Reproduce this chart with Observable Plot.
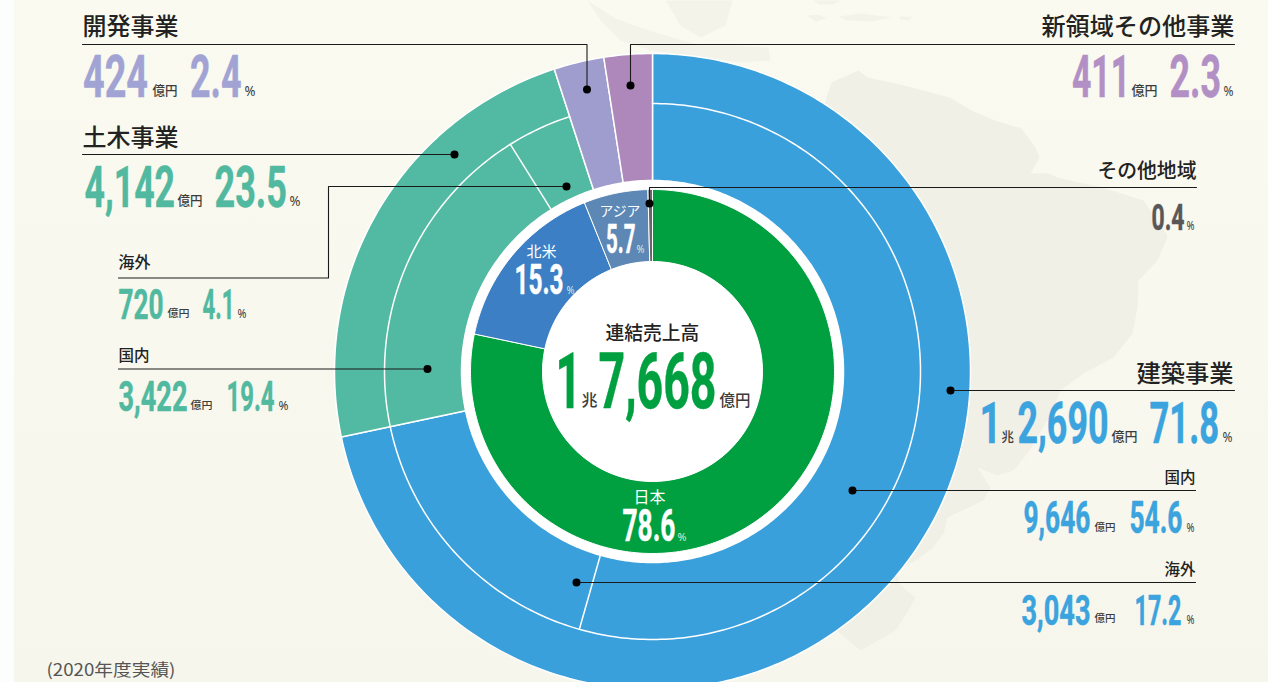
<!DOCTYPE html>
<html lang="ja">
<head>
<meta charset="utf-8">
<title>連結売上高</title>
<script src="https://cdn.jsdelivr.net/npm/d3@7"></script>
<script src="https://cdn.jsdelivr.net/npm/@observablehq/plot@0.6"></script>
<style>
html,body{margin:0;padding:0;background:#fcfdfd;overflow:hidden}
svg{display:block}
</style>
</head>
<body>
<div id="chart"></div>
<script>
// ---- values printed in the picture ----
const businessNames = ["建築事業", "土木事業", "開発事業", "新領域その他事業"];
const businessShares = [71.8, 23.5, 2.4, 2.3];
const businessAmounts = [12690, 4142, 424, 411];
const businessColors = ["#3aa0dc", "#52b9a2", "#9e9dcd", "#ae87bb"];

const subNames = ["国内", "海外", "国内", "海外"];
const subShares = [54.6, 17.2, 19.4, 4.1];
const subAmounts = [9646, 3043, 3422, 720];

const regionNames = ["日本", "北米", "アジア", "その他地域"];
const regionShares = [78.6, 15.3, 5.7, 0.4];
const regionColors = ["#00a040", "#3c7fc4", "#5d87b5", "#666666"];

const totalTitle = "連結売上高";
const totalAmount = 17668;
const footNote = "(2020年度実績)";

const businessDrawn = [71.7, 23.3, 2.55, 2.45];
const subDrawn = [54.4, 17.3, 19.4, 3.9];
const regionDrawn = [78.3, 15.6, 5.7, 0.4];

// ---- geometry of the rings ----
const W = 1268, H = 682, cx = 652, cy = 371;
const rOuter = 318, rSplit = 268, rMid = 191, rRegion = 182, rHole = 110;

const polar = (r, share) => {
  const a = share / 100 * 2 * Math.PI;
  return {x: cx + r * Math.sin(a), y: cy - r * Math.cos(a)};
};
const arcPoints = (r, s0, s1) => {
  const n = Math.max(2, Math.ceil(Math.abs(s1 - s0) * 4));
  return d3.range(n + 1).map(i => polar(r, s0 + (s1 - s0) * i / n));
};
function ringSlices(shares, colors, r0, r1) {
  let start = 0;
  return shares.flatMap((v, k) => {
    const s0 = start, s1 = start + v;
    start = s1;
    const pts = [...arcPoints(r1, s0, s1), ...arcPoints(r0, s1, s0)];
    pts.push(pts[0]);
    return pts.map(p => ({...p, id: k, color: colors[k]}));
  });
}
const outerSlices = ringSlices(businessDrawn, businessColors, rMid, rOuter);
const regionSlices = ringSlices(regionDrawn, regionColors, rHole, rRegion);

const splitEnd = businessDrawn[0] + businessDrawn[1];
const splitArc = arcPoints(rSplit, 0, splitEnd);
const cut1 = subDrawn[0];
const cut2 = subDrawn[0] + subDrawn[1] + subDrawn[2];
const splitCuts = [cut1, cut2].flatMap((s, k) =>
  [polar(rMid, s), polar(rSplit, s)].map(p => ({...p, id: k})));

// ---- faint map behind the chart (decoration) ----
const mapMain = [[[831,82],[858,70],[867,77],[904,85],[949,97],[971,110],[994,120],[1021,128],[1035,147],[1039,157],[1030,173],[1048,173],[1057,177],[1102,187],[1143,200],[1166,233],[1167,237],[1157,260],[1138,280],[1137,307],[1132,333],[1113,357],[1083,373],[1060,390],[1050,415],[1027,453],[1013,470],[997,475],[977,467],[990,487],[983,500],[947,517],[943,533],[932,548],[915,560],[895,570],[900,585],[915,597],[905,615],[895,630],[860,650],[800,600],[760,300]]];
const mapNorth = [
  [[587,0],[615,18],[640,27],[668,36],[700,45],[730,45],[768,47],[770,60],[740,62],[650,50],[620,40],[600,20]],
  [[732,0],[725,25],[700,37],[680,25],[665,0]],
  [[806,15],[818,14],[826,18],[815,21]],
  [[838,16],[860,13],[892,17],[872,21],[845,20]],
  [[899,16],[912,16],[908,20],[900,19]],
  [[813,0],[840,0],[832,4],[818,4]]
];
const toPoints = shapes => shapes.flatMap((s, k) => [...s, s[0]].map(([x, y]) => ({x, y, id: k})));

// ---- leader lines ----
const leaderPaths = [
  [[82,44],[586.5,44],[586.5,89]],
  [[1234,44],[630,44],[630,85]],
  [[82,154],[454,154]],
  [[118,277.5],[328,277.5],[328,186],[566,186]],
  [[118,368.5],[427,368.5]],
  [[1234,390],[950,390]],
  [[1195,490],[852,490]],
  [[1195,582],[576,582]],
  [[1196,187],[649,187],[649,203]]
];
const leaderPoints = leaderPaths.flatMap((p, k) => p.map(([x, y]) => ({x, y, id: k})));
const leaderDots = leaderPaths.map(p => ({x: p[p.length - 1][0], y: p[p.length - 1][1]}));

// ---- text ----
const fmt = d3.format(",");
const pct = v => v.toFixed(1);
const ink = "#222222", unitInk = "#3c3c3c", soft = "#d9ecdf";
const numColor = {blue: "#3ba3dd", teal: "#51b9a0", peri: "#a0a3d3", purp: "#b28fc4", grey: "#595757", green: "#00a040"};

// [text, left, right, baseline, digit height, colour]
const numberText = [
  [String(businessAmounts[2]), 82.5, 147.5, 96, 41, numColor.peri],
  [pct(businessShares[2]), 189.5, 241, 96, 41, numColor.peri],
  [fmt(businessAmounts[1]), 84, 174.5, 206, 40, numColor.teal],
  [pct(businessShares[1]), 214, 286.5, 206, 40, numColor.teal],
  [String(businessAmounts[3]), 1071.5, 1129.5, 96, 41, numColor.purp],
  [pct(businessShares[3]), 1169, 1220.5, 96, 41, numColor.purp],
  ["1", 979, 1001, 442, 40, numColor.blue],
  [fmt(businessAmounts[0] % 10000), 1017, 1108, 442, 40, numColor.blue],
  [pct(businessShares[0]), 1149, 1218.5, 442, 40, numColor.blue],
  [fmt(subAmounts[0]), 1023, 1090, 532, 30, numColor.blue],
  [pct(subShares[0]), 1129, 1182, 532, 30, numColor.blue],
  [fmt(subAmounts[1]), 1021, 1090, 624, 29, numColor.blue],
  [pct(subShares[1]), 1134, 1181, 624, 29, numColor.blue],
  [String(subAmounts[3]), 118, 163, 318, 29, numColor.teal],
  [pct(subShares[3]), 202, 234, 318, 29, numColor.teal],
  [fmt(subAmounts[2]), 118, 187, 410, 29, numColor.teal],
  [pct(subShares[2]), 226, 274, 410, 29, numColor.teal],
  [pct(regionShares[3]), 1151, 1184, 229, 26, numColor.grey],
  ["1", 555, 581, 407, 54, numColor.green],
  [fmt(totalAmount % 10000), 598, 716, 407, 54, numColor.green],
  [pct(regionShares[2]), 605.5, 635, 252, 28, "#ffffff"],
  [pct(regionShares[1]), 514, 563, 293, 29, "#ffffff"],
  [pct(regionShares[0]), 622, 675, 540, 30, "#ffffff"]
];

// [text, left, right, baseline, font size, colour, weight]
const kanjiText = [
  [businessNames[2], 82, 178, 34, 24, ink, 500],
  [businessNames[3], 1041, 1234, 34, 24, ink, 500],
  [businessNames[1], 82, 178, 145, 24, ink, 500],
  [businessNames[0], 1136, 1233, 381, 24, ink, 500],
  [regionNames[3], 1097, 1196, 177, 20, ink, 500],
  [subNames[0], 1164, 1195, 482, 15.5, ink, 500],
  [subNames[1], 1164, 1195, 574, 15.5, ink, 500],
  [subNames[3], 118, 150, 267, 15.5, ink, 500],
  [subNames[2], 118, 149, 360, 15.5, ink, 500],
  [totalTitle, 605, 699, 339, 19, ink, 500],
  [regionNames[2], 599, 640, 215, 14, "#ffffff", 400],
  [regionNames[1], 526, 556, 256, 15, "#ffffff", 400],
  [regionNames[0], 633, 665, 502, 16, "#ffffff", 400],
  [footNote, 46, 175, 675, 17, "#555555", 400],
  ["億円", 152, 177, 94.5, 13, unitInk, 500],
  ["億円", 177, 202, 204.5, 13, unitInk, 500],
  ["億円", 1131, 1157, 94.5, 13, unitInk, 500],
  ["兆", 1001, 1013.5, 440, 13, unitInk, 500],
  ["億円", 1111, 1137, 440, 13, unitInk, 500],
  ["億円", 1094, 1115, 530, 10.5, unitInk, 500],
  ["億円", 1094, 1115, 621, 10.5, unitInk, 500],
  ["億円", 167, 189, 316, 10.5, unitInk, 500],
  ["億円", 190, 212, 408, 10.5, unitInk, 500],
  ["兆", 581, 597, 405, 16, unitInk, 500],
  ["億円", 719, 750, 405, 16, unitInk, 500]
];

// [left, right, baseline, font size, colour]
const percentSigns = [
  [244, 255, 95, 15, unitInk], [289, 300, 205, 15, unitInk],
  [1223, 1233, 95, 15, unitInk], [1222, 1232, 441, 15, unitInk],
  [1186, 1194, 531, 13, unitInk], [1186, 1194, 623, 13, unitInk],
  [237, 246, 317, 13, unitInk], [278, 288, 409, 13, unitInk],
  [1186, 1194, 229, 12, unitInk],
  [636, 644, 252, 11, soft], [566, 574, 293, 11, soft], [677, 686, 540, 11, soft]
];

const numberRows = numberText.map(([t, x0, x1, y, h, c]) => ({t, x: x0, w: x1 - x0, y, size: h / 0.688, c}));
const kanjiRows = kanjiText.map(([t, x0, x1, y, size, c, wt]) => ({t, x: x0, w: x1 - x0, y, size, c, wt}));
const signRows = percentSigns.map(([x0, x1, y, size, c]) => ({t: "%", x: x0, w: x1 - x0, y, size, c}));

function fitted(rows) {
  return function(index, scales, values, dims, ctx, next) {
    const g = next(index, scales, values, dims, ctx);
    d3.select(g).selectAll("text").attr("data-w", i => rows[i].w);
    return g;
  };
}
const textMark = (rows, font, weight, extra = {}) => Plot.text(rows, {
  x: "x", y: "y", text: "t", fill: "c", fontSize: "size",
  textAnchor: "start", lineAnchor: "bottom",
  fontFamily: font, fontWeight: weight, render: fitted(rows), ...extra
});

const cjk = '"Noto Sans CJK JP","Noto Sans",sans-serif';
const narrow = '"Liberation Sans Narrow","Roboto","Liberation Sans",sans-serif';
const kanji500 = kanjiRows.filter(d => d.wt === 500);
const kanji400 = kanjiRows.filter(d => d.wt === 400);

const chart = Plot.plot({
  width: W, height: H,
  margin: 0,
  x: {domain: [0, W], range: [0, W], axis: null},
  y: {domain: [0, H], range: [0, H], axis: null},
  style: {background: "linear-gradient(#fafaf0,#f6f6ec) 14px 0 / 1254px 682px no-repeat", overflow: "hidden"},
  marks: [
    Plot.line(toPoints(mapNorth), {x: "x", y: "y", z: "id", fill: "#f3f3e9", stroke: "none", curve: "linear-closed"}),
    Plot.line(toPoints(mapMain), {x: "x", y: "y", z: "id", fill: "#f0f0e6", stroke: "none", curve: "linear-closed"}),
    Plot.line(outerSlices, {x: "x", y: "y", z: "id", fill: "color", stroke: "#ffffff", strokeWidth: 1.5, curve: "linear"}),
    Plot.line(splitArc, {x: "x", y: "y", stroke: "#ffffff", strokeWidth: 1.5, curve: "linear"}),
    Plot.line(splitCuts, {x: "x", y: "y", z: "id", stroke: "#ffffff", strokeWidth: 1.5, curve: "linear"}),
    Plot.dot([{x: cx, y: cy}], {x: "x", y: "y", r: rMid, fill: "#ffffff", stroke: "none"}),
    Plot.line(regionSlices, {x: "x", y: "y", z: "id", fill: "color", stroke: "#ffffff", strokeWidth: 1, curve: "linear"}),
    Plot.dot([{x: cx, y: cy}], {x: "x", y: "y", r: rHole, fill: "#ffffff", stroke: "none"}),
    Plot.line(leaderPoints, {x: "x", y: "y", z: "id", stroke: "#1a1a1a", strokeWidth: 1.1, curve: "linear"}),
    Plot.dot(leaderDots, {x: "x", y: "y", r: 4, fill: "#000000", stroke: "none"}),
    textMark(numberRows, narrow, 700, {stroke: "c", strokeWidth: 0.5}),
    textMark(kanji500, cjk, 500, {render: fitted(kanji500)}),
    textMark(kanji400, cjk, 400, {render: fitted(kanji400)}),
    textMark(signRows, '"Noto Sans",sans-serif', 400)
  ]
});
document.getElementById("chart").appendChild(chart);

// squeeze every text to the width it has in the picture
chart.querySelectorAll("text[data-w]").forEach(el => {
  const k = +el.getAttribute("data-w") / el.getComputedTextLength();
  const tr = el.getAttribute("transform") || "";
  el.setAttribute("transform", `${tr} scale(${k},1)`);
});
</script>
</body>
</html>
